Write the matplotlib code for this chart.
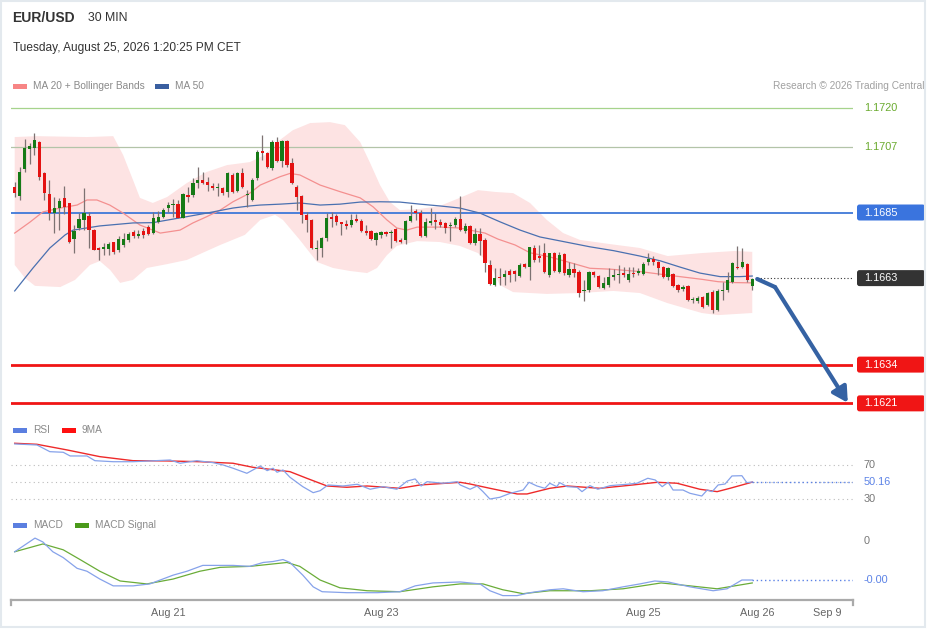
import numpy as np
import matplotlib.pyplot as plt
from matplotlib.patches import Rectangle, FancyBboxPatch
from matplotlib.transforms import IdentityTransform

plt.rcParams['font.family'] = ['Liberation Sans', 'DejaVu Sans']

# ---- 30 min candles, EUR/USD ----
opens = [1.16935, 1.16905, 1.16996, 1.17063, 1.17066, 1.17086, 1.16982, 1.16912, 1.16848, 1.16865,
         1.16899, 1.16882, 1.16761, 1.16798, 1.16825, 1.16838, 1.16791, 1.16731, 1.16728, 1.16728,
         1.16751, 1.16724, 1.16741, 1.16758, 1.16785, 1.16771, 1.16788, 1.16801, 1.16781, 1.16818,
         1.16835, 1.16865, 1.16875, 1.16878, 1.16832, 1.16909, 1.16909, 1.16949, 1.16959, 1.16952,
         1.16939, 1.16932, 1.16932, 1.16919, 1.16976, 1.16922, 1.16982, 1.16909, 1.16892, 1.16966,
         1.17056, 1.17049, 1.16999, 1.17086, 1.17022, 1.17090, 1.17016, 1.16935, 1.16905, 1.16842,
         1.16825, 1.16728, 1.16731, 1.16765, 1.16835, 1.16838, 1.16818, 1.16811, 1.16808, 1.16828,
         1.16821, 1.16788, 1.16788, 1.16758, 1.16775, 1.16785, 1.16781, 1.16795, 1.16758, 1.16758,
         1.16821, 1.16855, 1.16848, 1.16771, 1.16815, 1.16825, 1.16818, 1.16815, 1.16805, 1.16808,
         1.16828, 1.16788, 1.16805, 1.16748, 1.16778, 1.16758, 1.16674, 1.16607, 1.16634, 1.16634,
         1.16654, 1.16654, 1.16637, 1.16677, 1.16667, 1.16731, 1.16704, 1.16714, 1.16640, 1.16714,
         1.16651, 1.16711, 1.16640, 1.16661, 1.16651, 1.16587, 1.16590, 1.16651, 1.16637, 1.16597,
         1.16607, 1.16634, 1.16640, 1.16647, 1.16624, 1.16647, 1.16647, 1.16644, 1.16684, 1.16694,
         1.16684, 1.16667, 1.16634, 1.16644, 1.16607, 1.16593, 1.16604, 1.16557, 1.16553, 1.16567,
         1.16540, 1.16583, 1.16523, 1.16587, 1.16590, 1.16617, 1.16667, 1.16667, 1.16677, 1.16604]
highs = [1.16952, 1.17002, 1.17096, 1.17083, 1.17116, 1.17090, 1.16986, 1.16959, 1.16902, 1.16899,
         1.16939, 1.16882, 1.16808, 1.16848, 1.16932, 1.16852, 1.16795, 1.16734, 1.16748, 1.16751,
         1.16751, 1.16771, 1.16781, 1.16785, 1.16791, 1.16791, 1.16798, 1.16808, 1.16852, 1.16855,
         1.16865, 1.16885, 1.16895, 1.16892, 1.16915, 1.16935, 1.16966, 1.17002, 1.16986, 1.16969,
         1.16949, 1.16949, 1.16935, 1.16986, 1.16982, 1.16986, 1.16999, 1.16925, 1.16966, 1.17059,
         1.17110, 1.17053, 1.17093, 1.17103, 1.17093, 1.17093, 1.17033, 1.16942, 1.16909, 1.16852,
         1.16828, 1.16758, 1.16768, 1.16848, 1.16852, 1.16845, 1.16818, 1.16825, 1.16845, 1.16845,
         1.16828, 1.16808, 1.16791, 1.16785, 1.16788, 1.16788, 1.16791, 1.16798, 1.16765, 1.16825,
         1.16875, 1.16862, 1.16858, 1.16832, 1.16865, 1.16848, 1.16828, 1.16818, 1.16818, 1.16835,
         1.16905, 1.16815, 1.16808, 1.16798, 1.16798, 1.16765, 1.16691, 1.16664, 1.16664, 1.16657,
         1.16661, 1.16657, 1.16681, 1.16681, 1.16734, 1.16741, 1.16741, 1.16748, 1.16714, 1.16718,
         1.16718, 1.16714, 1.16684, 1.16681, 1.16657, 1.16624, 1.16654, 1.16654, 1.16640, 1.16634,
         1.16664, 1.16661, 1.16674, 1.16667, 1.16667, 1.16667, 1.16664, 1.16684, 1.16714, 1.16704,
         1.16687, 1.16671, 1.16667, 1.16647, 1.16610, 1.16607, 1.16607, 1.16567, 1.16570, 1.16570,
         1.16583, 1.16590, 1.16593, 1.16617, 1.16651, 1.16684, 1.16738, 1.16731, 1.16681, 1.16630]
lows = [1.16902, 1.16892, 1.16986, 1.17012, 1.17043, 1.16959, 1.16892, 1.16825, 1.16781, 1.16791,
        1.16845, 1.16748, 1.16714, 1.16791, 1.16791, 1.16731, 1.16724, 1.16691, 1.16707, 1.16707,
        1.16711, 1.16718, 1.16734, 1.16751, 1.16765, 1.16765, 1.16765, 1.16775, 1.16778, 1.16815,
        1.16832, 1.16852, 1.16835, 1.16832, 1.16832, 1.16885, 1.16902, 1.16932, 1.16945, 1.16922,
        1.16925, 1.16905, 1.16909, 1.16902, 1.16915, 1.16919, 1.16932, 1.16868, 1.16888, 1.16959,
        1.17026, 1.16999, 1.16992, 1.17019, 1.17002, 1.17002, 1.16945, 1.16858, 1.16815, 1.16785,
        1.16728, 1.16691, 1.16701, 1.16754, 1.16801, 1.16808, 1.16775, 1.16795, 1.16801, 1.16818,
        1.16785, 1.16775, 1.16758, 1.16741, 1.16765, 1.16771, 1.16731, 1.16751, 1.16748, 1.16744,
        1.16818, 1.16825, 1.16768, 1.16768, 1.16808, 1.16795, 1.16801, 1.16781, 1.16754, 1.16801,
        1.16788, 1.16781, 1.16744, 1.16741, 1.16707, 1.16651, 1.16607, 1.16604, 1.16607, 1.16607,
        1.16617, 1.16620, 1.16634, 1.16664, 1.16624, 1.16684, 1.16684, 1.16647, 1.16634, 1.16651,
        1.16647, 1.16640, 1.16634, 1.16634, 1.16567, 1.16553, 1.16583, 1.16634, 1.16597, 1.16593,
        1.16600, 1.16624, 1.16614, 1.16634, 1.16617, 1.16634, 1.16640, 1.16640, 1.16674, 1.16674,
        1.16640, 1.16630, 1.16624, 1.16600, 1.16583, 1.16587, 1.16553, 1.16546, 1.16546, 1.16530,
        1.16536, 1.16513, 1.16520, 1.16557, 1.16583, 1.16614, 1.16661, 1.16664, 1.16617, 1.16590]
closes = [1.16915, 1.16986, 1.17066, 1.17073, 1.17093, 1.16969, 1.16915, 1.16848, 1.16865, 1.16888,
          1.16868, 1.16751, 1.16788, 1.16828, 1.16848, 1.16791, 1.16724, 1.16724, 1.16734, 1.16744,
          1.16718, 1.16761, 1.16761, 1.16778, 1.16771, 1.16778, 1.16775, 1.16778, 1.16832, 1.16835,
          1.16858, 1.16875, 1.16878, 1.16832, 1.16912, 1.16902, 1.16949, 1.16959, 1.16949, 1.16942,
          1.16932, 1.16935, 1.16915, 1.16982, 1.16919, 1.16982, 1.16935, 1.16912, 1.16959, 1.17053,
          1.17049, 1.17002, 1.17086, 1.17022, 1.17090, 1.17009, 1.16949, 1.16902, 1.16842, 1.16825,
          1.16731, 1.16731, 1.16765, 1.16832, 1.16828, 1.16818, 1.16811, 1.16805, 1.16825, 1.16821,
          1.16788, 1.16781, 1.16761, 1.16781, 1.16785, 1.16778, 1.16785, 1.16754, 1.16751, 1.16821,
          1.16838, 1.16848, 1.16771, 1.16818, 1.16821, 1.16818, 1.16808, 1.16798, 1.16808, 1.16828,
          1.16791, 1.16805, 1.16748, 1.16778, 1.16754, 1.16681, 1.16610, 1.16630, 1.16630, 1.16644,
          1.16640, 1.16644, 1.16674, 1.16667, 1.16734, 1.16691, 1.16697, 1.16651, 1.16714, 1.16654,
          1.16707, 1.16647, 1.16661, 1.16647, 1.16580, 1.16590, 1.16651, 1.16640, 1.16600, 1.16614,
          1.16634, 1.16640, 1.16644, 1.16640, 1.16644, 1.16644, 1.16654, 1.16677, 1.16694, 1.16684,
          1.16664, 1.16634, 1.16664, 1.16604, 1.16590, 1.16600, 1.16557, 1.16560, 1.16563, 1.16533,
          1.16580, 1.16523, 1.16587, 1.16590, 1.16624, 1.16681, 1.16664, 1.16684, 1.16624, 1.16627]

# indicator lines (candle index, value)
ma20_x = [0, 3.1, 5.7, 9.2, 12.6, 14.6, 16.6, 19.2, 21.9, 25.3, 29.4, 33.4, 36.0, 38.8, 41.5,
          44.1, 47.5, 49.6, 53.6, 55.6, 57.6, 61.7, 65.7, 69.8, 72.4, 75.2, 77.2, 79.2, 81.3, 85.9,
          89.9, 95.0, 97.6, 101.1, 104.1, 108.1, 112.2, 116.2, 120.3, 126.3, 131.9, 138.8, 142.1, 145.5, 149]
ma20_y = [1.16781, 1.16818, 1.16852, 1.16865, 1.16875, 1.16892, 1.16892, 1.16875, 1.16848, 1.16808,
          1.16781, 1.16791, 1.16815, 1.16836, 1.16858, 1.16886, 1.16915, 1.16942, 1.16970, 1.16981,
          1.16976, 1.16942, 1.16920, 1.16899, 1.16869, 1.16825, 1.16798, 1.16791, 1.16801, 1.16801,
          1.16798, 1.16781, 1.16761, 1.16741, 1.16715, 1.16701, 1.16682, 1.16663, 1.16660, 1.16652,
          1.16640, 1.16626, 1.16618, 1.16615, 1.16614]
ma50_x = [0, 3.7, 7.1, 10.2, 11.8, 17.2, 23.9, 27.9, 33.4, 38.8, 44.1, 47.5, 49.6, 53.6, 57.6,
          61.7, 65.7, 69.8, 73.8, 77.8, 81.9, 85.9, 89.9, 94.0, 98.0, 102.1, 106.1, 110.1, 116.2,
          121.0, 126.3, 130.4, 134.4, 138.4, 142.5, 146.5, 149]
ma50_y = [1.16587, 1.16664, 1.16731, 1.16775, 1.16791, 1.16805, 1.16815, 1.16816, 1.16832, 1.16848,
          1.16865, 1.16872, 1.16875, 1.16878, 1.16882, 1.16875, 1.16878, 1.16885, 1.16886, 1.16885,
          1.16878, 1.16872, 1.16865, 1.16848, 1.16819, 1.16791, 1.16768, 1.16755, 1.16735, 1.16722,
          1.16704, 1.16688, 1.16667, 1.16647, 1.16635, 1.16635, 1.16637]
bb_up_x = [0, 4.5, 14.6, 19.9, 21.9, 23.9, 25.3, 27.9, 30.8, 34.8, 38.8, 42.9, 47.5, 50.6, 53.0,
           56.2, 59.7, 63.7, 66.7, 69.8, 71.8, 73.8, 75.8, 77.8, 81.9, 85.9, 89.9, 93.6, 97.0, 100.7,
           104.1, 107.5, 110.8, 114.2, 120.3, 126.3, 131.9, 138.8, 145.5, 149]
bb_up_y = [1.17103, 1.17106, 1.17103, 1.17106, 1.17043, 1.16959, 1.16899, 1.16882, 1.16902, 1.16949,
           1.16986, 1.17009, 1.17019, 1.17043, 1.17086, 1.17126, 1.17150, 1.17153, 1.17143, 1.17086,
           1.17016, 1.16942, 1.16885, 1.16858, 1.16862, 1.16872, 1.16899, 1.16925, 1.16919, 1.16915,
           1.16882, 1.16825, 1.16781, 1.16758, 1.16744, 1.16731, 1.16704, 1.16714, 1.16721, 1.16718]
bb_lo_x = [0, 2.1, 4.1, 9.2, 12.2, 15.2, 17.2, 19.3, 21.3, 23.9, 26.7, 30.8, 34.8, 38.4, 41.5,
           46.5, 49.6, 52.6, 54.2, 57.6, 61.1, 64.3, 67.7, 71.2, 73.2, 75.2, 77.2, 81.3, 85.9, 89.9,
           93.6, 96.0, 98.0, 100.7, 107.5, 114.2, 120.9, 126.3, 131.9, 138.8, 142.1, 149]
bb_lo_y = [1.16674, 1.16630, 1.16604, 1.16600, 1.16624, 1.16674, 1.16687, 1.16657, 1.16614, 1.16624,
           1.16664, 1.16677, 1.16691, 1.16718, 1.16741, 1.16775, 1.16825, 1.16842, 1.16825, 1.16758,
           1.16684, 1.16664, 1.16654, 1.16647, 1.16664, 1.16707, 1.16738, 1.16754, 1.16751, 1.16738,
           1.16714, 1.16677, 1.16607, 1.16583, 1.16577, 1.16580, 1.16587, 1.16580, 1.16546, 1.16513,
           1.16506, 1.16513]

rsi_x = [0, 4.5, 7.1, 9.8, 11.2, 14.6, 16.2, 19.9, 23.9, 27.3, 31.4, 33.4, 36.8, 40.1, 42.1, 44.1,
         46.9, 49.6, 51.0, 52.2, 53.0, 54.2, 55.6, 58.2, 60.3, 61.7, 63.3, 66.3, 69.2, 71.8, 74.4,
         77.2, 79.3, 80.9, 82.1, 83.3, 86.5, 89.4, 90.0, 92.0, 93.4, 94.6, 96.0, 98.0, 100.1, 102.7,
         103.9, 105.5, 107.1, 108.1, 109.5, 110.1, 111.6, 113.6, 114.6, 116.2, 117.8, 120.3, 123.7,
         125.7, 127.9, 129.4, 130.8, 132.0, 133.0, 135.0, 136.4, 138.8, 139.9, 140.9, 142.1, 143.5,
         144.9, 146.9, 147.9, 149]
rsi_y = [94.5, 93.3, 85.5, 84.8, 80.5, 80.5, 75.0, 73.8, 73.8, 74.7, 75.8, 72.0, 75.0, 72.7, 70.0,
         66.2, 60.3, 68.8, 63.4, 66.2, 61.5, 64.2, 55.7, 44.7, 37.7, 40.0, 46.7, 45.5, 47.5, 41.7,
         44.7, 41.7, 51.3, 53.7, 45.5, 50.5, 48.7, 50.5, 46.7, 41.7, 45.5, 38.9, 30.3, 32.3, 37.0,
         40.8, 49.8, 45.5, 42.8, 48.7, 44.7, 49.4, 44.7, 44.0, 38.9, 45.9, 41.7, 45.9, 47.5, 48.7,
         54.5, 52.5, 44.7, 49.8, 40.8, 40.8, 37.0, 33.8, 40.8, 38.9, 46.7, 47.8, 57.2, 57.5, 49.4, 50.16]
rsi_ma_x = [0, 4.5, 10.6, 17.2, 23.9, 30.8, 37.4, 44.1, 48.1, 55.6, 59.0, 63.1, 67.1, 71.2, 77.8,
            81.9, 90.0, 92.0, 96.0, 101.5, 103.5, 108.1, 111.6, 118.2, 124.9, 129.8, 133.8, 138.4,
            141.9, 144.5, 149]
rsi_ma_y = [95.3, 94.1, 87.5, 79.7, 75.0, 74.7, 73.8, 72.0, 67.3, 62.2, 54.5, 45.5, 44.0, 45.5, 42.8,
            46.7, 49.8, 47.8, 42.8, 36.2, 36.2, 42.8, 45.5, 42.8, 46.7, 49.8, 48.7, 41.7, 38.9, 42.8, 50.0]

macd_x = [0, 4.1, 5.7, 7.7, 9.8, 12.6, 14.6, 17.2, 19.9, 23.9, 27.3, 32.0, 34.8, 38.0, 41.5, 44.1,
          47.5, 50.2, 52.2, 54.2, 55.6, 58.2, 60.3, 62.1, 67.1, 73.2, 77.8, 80.9, 84.5, 90.0, 94.0,
          96.0, 98.6, 101.5, 104.1, 108.1, 110.8, 114.8, 118.8, 122.9, 126.3, 129.3, 132.0, 136.4,
          141.1, 143.9, 146.9, 149]
macd_y = [-0.00011, 0.00003, -0.00001, -0.00011, -0.00017, -0.00028, -0.00031, -0.00039, -0.00046,
          -0.00046, -0.00044, -0.00035, -0.00031, -0.00025, -0.00025, -0.00025, -0.00026, -0.00022,
          -0.00021, -0.00019, -0.00022, -0.00035, -0.00047, -0.00052, -0.00053, -0.00053, -0.00052,
          -0.00046, -0.00043, -0.00042, -0.00044, -0.00051, -0.00056, -0.00056, -0.00053, -0.00050,
          -0.00049, -0.00052, -0.00051, -0.00047, -0.00044, -0.00041, -0.00042, -0.00047, -0.00051,
          -0.00049, -0.00040, -0.00040]
signal_x = [0, 5.7, 9.8, 13.2, 17.2, 21.3, 26.7, 32.0, 37.4, 41.5, 47.5, 55.0, 57.6, 61.7, 65.7,
            71.2, 77.8, 84.5, 90.0, 94.6, 98.6, 102.7, 108.1, 116.2, 122.9, 130.6, 136.4, 141.9, 149]
signal_y = [-0.00011, -0.00003, -0.00009, -0.00019, -0.00031, -0.00041, -0.00044, -0.00039, -0.00031,
            -0.00027, -0.00026, -0.00022, -0.00026, -0.00040, -0.00048, -0.00051, -0.00052, -0.00047,
            -0.00044, -0.00044, -0.00050, -0.00054, -0.00051, -0.00051, -0.00049, -0.00043, -0.00046,
            -0.00049, -0.00043]

levels = [1.1720, 1.1707, 1.1685, 1.1634, 1.1621]
last_price = 1.1663
forecast_x = [150.0, 153.6, 168.3]
forecast_y = [1.16627, 1.16600, 1.16212]

date_pos = [31.0, 74.0, 126.9, 150.0, 164.1]
date_labels = ['Aug 21', 'Aug 23', 'Aug 25', 'Aug 26', 'Sep 9']

W, H = 929, 629
XL = (-0.747, 169.35)
fig = plt.figure(figsize=(W / 100, H / 100), dpi=100)


def px_axes(left, top, right, bottom):
    a = fig.add_axes([left / W, 1 - bottom / H, (right - left) / W, (bottom - top) / H])
    a.set_xlim(XL)
    for s in a.spines.values():
        s.set_visible(False)
    a.set_xticks([])
    a.set_yticks([])
    a.patch.set_alpha(0)
    return a


def right_label(a, val, text, color, box=None):
    y = a.transData.transform((0, val))[1]
    if box:
        fig.add_artist(FancyBboxPatch((857, y - 8), 68, 16, boxstyle='round,pad=0,rounding_size=2.5',
                                      fc=box, ec='none', transform=IdentityTransform()))
    fig.text(864 / W, y / H, text, color=color, fontsize=7.8, va='center', ha='left')


def legend_item(x, y, color, label):
    fig.add_artist(Rectangle((x, H - y - 2.5), 14, 5, fc=color, ec='none', transform=IdentityTransform()))
    fig.text((x + 20) / W, 1 - y / H, label, fontsize=7.3, color='#8a8a8a', va='center')


# ---- price panel ----
ax = px_axes(11, 95, 853, 415)
ax.set_ylim(1.16171, 1.17244)

ax.fill(np.concatenate([bb_up_x, bb_lo_x[::-1]]), np.concatenate([bb_up_y, bb_lo_y[::-1]]),
        color='#fde3e3', lw=0, zorder=1)
ax.plot(ma20_x, ma20_y, color='#f49090', lw=0.9, zorder=2)
ax.plot(ma50_x, ma50_y, color='#4a70b0', lw=0.9, zorder=2)

ax.axhline(levels[0], color='#a6d38c', lw=0.9, zorder=1.5)
ax.axhline(levels[1], color='#b3c4a8', lw=0.9, zorder=1.5)
ax.axhline(levels[2], color='#3f78d8', lw=1.3, zorder=1.5)
ax.axhline(levels[3], color='#f01515', lw=2, zorder=1.5)
ax.axhline(levels[4], color='#f01515', lw=2, zorder=1.5)
ax.plot([forecast_x[0], XL[1]], [last_price, last_price], color='#333333', lw=0.8, ls=(0, (1, 2)))

o = np.array(opens)
hi = np.array(highs)
lo = np.array(lows)
c = np.array(closes)
idx = np.arange(len(o))
cols = np.where(c >= o, '#167a16', '#e41212')
ax.vlines(idx, lo, hi, color='#7d7272', lw=0.9, zorder=3)
ax.bar(idx, np.maximum(np.abs(c - o), 0.00003), bottom=np.minimum(o, c), width=0.66,
       color=cols, lw=0, zorder=4)

ax.plot(forecast_x[:2], forecast_y[:2], color='#3562a3', lw=3, solid_capstyle='round', zorder=5)
ax.annotate('', xy=(forecast_x[2], forecast_y[2]), xytext=(forecast_x[1], forecast_y[1]),
            arrowprops=dict(arrowstyle='-|>,head_length=0.9,head_width=0.5', color='#3562a3',
                            lw=3, shrinkA=0, shrinkB=0), zorder=5)

right_label(ax, levels[0], '1.1720', '#6aaa2e')
right_label(ax, levels[1], '1.1707', '#6aaa2e')
right_label(ax, levels[2], '1.1685', 'white', '#3a74de')
right_label(ax, last_price, '1.1663', 'white', '#333333')
right_label(ax, levels[3], '1.1634', 'white', '#f01515')
right_label(ax, levels[4], '1.1621', 'white', '#f01515')

# ---- RSI panel ----
ar = px_axes(11, 425, 853, 510)
ar.set_ylim(17.5, 116.6)
for lv in (70, 50, 30):
    ar.axhline(lv, color='#bbbbbb', lw=0.8, ls=(0, (1, 3)))
ar.plot(rsi_ma_x, rsi_ma_y, color='#ee2a2a', lw=1.0)
ar.plot(rsi_x, rsi_y, color='#86a2ea', lw=0.9)
ar.plot([rsi_x[-1], XL[1]], [rsi_y[-1], rsi_y[-1]], color='#5b82e6', lw=1, ls=(0, (1, 2)))
right_label(ar, 70, '70', '#777777')
right_label(ar, rsi_y[-1], f'{rsi_y[-1]:.2f}', '#5b82e6')
right_label(ar, 30, '30', '#777777')

# ---- MACD panel ----
am = px_axes(11, 515, 853, 600)
am.set_ylim(-0.000605, 0.000267)
am.plot(signal_x, signal_y, color='#6aac38', lw=0.9)
am.plot(macd_x, macd_y, color='#86a2ea', lw=0.9)
am.plot([macd_x[-1], XL[1]], [macd_y[-1], macd_y[-1]], color='#5b82e6', lw=1, ls=(0, (1, 2)))
right_label(am, 0, '0', '#777777')
right_label(am, macd_y[-1], f'{macd_y[-1]:.2f}', '#5b82e6')
am.spines['bottom'].set_visible(True)
am.spines['bottom'].set_color('#aaaaaa')
am.spines['bottom'].set_linewidth(1.6)
am.set_xticks(date_pos)
am.set_xticklabels(date_labels)
am.tick_params(axis='x', length=0, pad=6, labelsize=7.8, labelcolor='#666666')
for xe in (0, 1):
    am.plot([xe, xe], [0, -0.06], transform=am.transAxes, clip_on=False, color='#aaaaaa', lw=1.6)

# ---- header and legends ----
fig.text(12 / W, 1 - 18 / H, 'EUR/USD', fontsize=10, fontweight='bold', color='#333333', va='center')
fig.text(88 / W, 1 - 18 / H, '30 MIN', fontsize=8.8, color='#333333', va='center')
fig.text(13 / W, 1 - 48 / H, 'Tuesday, August 25, 2026 1:20:25 PM CET', fontsize=8.6,
         color='#333333', va='center')
legend_item(13, 86, '#f78585', 'MA 20 + Bollinger Bands')
legend_item(155, 86, '#3a5fa0', 'MA 50')
fig.text(925 / W, 1 - 86 / H, 'Research \u00a9 2026 Trading Central', fontsize=7.3,
         color='#a0a0a0', va='center', ha='right')
legend_item(13, 430, '#5b7fe0', 'RSI')
legend_item(62, 430, '#ff1010', '9MA')
legend_item(13, 525, '#5b7fe0', 'MACD')
legend_item(75, 525, '#4a9a1a', 'MACD Signal')

fig.add_artist(Rectangle((1, 2), 924, 626, fill=False, ec='#e3e9ee', lw=1.5, transform=IdentityTransform()))

fig.savefig('out.png', dpi=100)
